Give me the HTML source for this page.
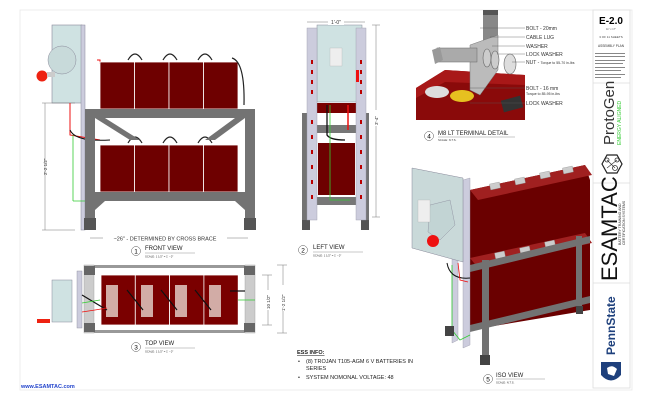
<!DOCTYPE html>
<html><head><meta charset="utf-8"><style>
html,body{margin:0;padding:0;background:#fff}
svg{display:block;font-family:"Liberation Sans",sans-serif}
</style></head><body>
<svg width="650" height="400" viewBox="0 0 650 400" xmlns="http://www.w3.org/2000/svg">
<rect x="20" y="10" width="612" height="380" fill="#fff" stroke="#e8e8e8" stroke-width="0.8"/>
<!-- title block -->
<rect x="593" y="10" width="37" height="378" fill="#fff" stroke="#ddd" stroke-width="0.8"/>
<line x1="593" y1="83" x2="630" y2="83" stroke="#ddd" stroke-width="0.8"/>
<line x1="593" y1="183" x2="630" y2="183" stroke="#ddd" stroke-width="0.8"/>
<line x1="593" y1="283" x2="630" y2="283" stroke="#ddd" stroke-width="0.8"/>
<text x="611" y="24" font-size="10" font-weight="bold" text-anchor="middle">E-2.0</text>
<text x="611" y="30" font-size="2.5" text-anchor="middle" fill="#555">11" x 17"</text>
<text x="611" y="38" font-size="3" text-anchor="middle" fill="#444">3 OF 11 SHEETS</text>
<text x="611" y="47" font-size="3.2" text-anchor="middle" fill="#333">ASSEMBLY PLAN</text>
<g fill="#888"><rect x="595" y="53" width="30" height="1"/><rect x="595" y="56" width="30" height="1"/><rect x="595" y="60" width="30" height="1"/><rect x="595" y="63" width="28" height="1"/><rect x="595" y="67" width="30" height="1"/><rect x="595" y="70" width="26" height="1"/><rect x="595" y="74" width="30" height="1"/><rect x="595" y="77" width="26" height="1"/></g>
<text transform="translate(614,145) rotate(-90)" font-size="15" fill="#333">ProtoGen</text>
<text transform="translate(621,145) rotate(-90)" font-size="5" fill="#3c3">ENERGY ALIGNED</text>
<polygon points="602,164 607,155 617,155 622,164 617,173 607,173" fill="none" stroke="#222" stroke-width="1.2"/>
<circle cx="607" cy="160" r="2" fill="none" stroke="#333" stroke-width="0.8"/><circle cx="617" cy="160" r="2" fill="none" stroke="#333" stroke-width="0.8"/><circle cx="615" cy="168" r="2.5" fill="none" stroke="#333" stroke-width="0.8"/>
<line x1="607" y1="160" x2="615" y2="168" stroke="#333" stroke-width="0.6"/><line x1="617" y1="160" x2="607" y2="168" stroke="#333" stroke-width="0.6"/>
<text transform="translate(617,281) rotate(-90)" font-size="22" fill="#111">ESAMTAC</text>
<text transform="translate(621,245) rotate(-90)" font-size="3.5" fill="#333">BATTERY TRAINING AND</text>
<text transform="translate(625,245) rotate(-90)" font-size="3.5" fill="#333">CERTIFICATION SYSTEMS</text>
<text transform="translate(615,355) rotate(-90)" font-size="12" font-weight="bold" fill="#1e407c">PennState</text>
<path d="M601,362 L621,362 L621,375 Q611,386 601,375 Z" fill="#1e407c"/>
<path d="M607,368 Q612,364 617,369 L614,376 L608,374 Z" fill="#fff"/>

<!-- FRONT VIEW -->
<g>
<rect x="52" y="25" width="30" height="78" fill="#cfe2e2" stroke="#889" stroke-width="0.6"/>
<circle cx="62" cy="60" r="14" fill="#c8dada" stroke="#889" stroke-width="0.5"/>
<rect x="81" y="25" width="4" height="205" fill="#ccd" stroke="#889" stroke-width="0.5"/>
<circle cx="42" cy="76" r="5.5" fill="#e21"/>
<rect x="47" y="72" width="8" height="5" fill="#ccc"/>
<line x1="45" y1="103" x2="45" y2="230" stroke="#777" stroke-width="0.5"/>
<line x1="42" y1="103" x2="75" y2="103" stroke="#777" stroke-width="0.5"/>
<line x1="42" y1="230" x2="75" y2="230" stroke="#777" stroke-width="0.5"/>
<text transform="translate(47,175) rotate(-90)" font-size="4.5" fill="#333">2'-2 1/2"</text>
<polyline points="70,103 70,135 100,140" fill="none" stroke="#e11" stroke-width="1"/>
<polyline points="97,60 100,60 100,64" fill="none" stroke="#e11" stroke-width="1"/>
<polyline points="73,201 73,135" fill="none" stroke="#3c3" stroke-width="0.8"/>
<polyline points="73,201 90,201" fill="none" stroke="#3c3" stroke-width="0.8"/>
<path d="M70,130 Q75,142 110,140" fill="none" stroke="#111" stroke-width="1"/>
<g fill="#6e0000" stroke="#fff" stroke-width="0.8">
<rect x="100" y="62" width="34.5" height="47"/><rect x="134.5" y="62" width="34.5" height="47"/><rect x="169" y="62" width="34.5" height="47"/><rect x="203.5" y="62" width="34.5" height="47"/>
<rect x="100" y="145" width="34.5" height="47"/><rect x="134.5" y="145" width="34.5" height="47"/><rect x="169" y="145" width="34.5" height="47"/><rect x="203.5" y="145" width="34.5" height="47"/>
</g>
<g fill="none" stroke="#222" stroke-width="1.2">
<path d="M128,60 Q135,48 142,60"/><path d="M163,60 Q170,48 177,60"/><path d="M198,60 Q205,48 212,60"/><path d="M232,58 Q245,62 244,105"/>
<path d="M128,143 Q135,131 142,143"/><path d="M163,143 Q170,131 177,143"/><path d="M198,143 Q205,131 212,143"/>
</g>
<g fill="#737373">
<rect x="85" y="109" width="170" height="9"/>
<rect x="85" y="192" width="170" height="9"/>
<rect x="85" y="109" width="10" height="110"/>
<rect x="245" y="109" width="10" height="110"/>
<polygon points="95,118 105,118 140,140 130,140"/><polygon points="245,118 235,118 205,140 215,140"/>
<polygon points="95,201 105,201 95,210"/><polygon points="245,201 235,201 245,210"/>
</g>
<rect x="84" y="218" width="12" height="12" fill="#555"/><rect x="244" y="218" width="12" height="12" fill="#555"/>
<line x1="90" y1="238" x2="248" y2="238" stroke="#777" stroke-width="0.5"/>
<rect x="103" y="234" width="124" height="8" fill="#fff"/>
<text x="165" y="240.5" font-size="5.5" text-anchor="middle" fill="#333">~26" - DETERMINED BY CROSS BRACE</text>
<circle cx="136" cy="251" r="4.5" fill="#fff" stroke="#555" stroke-width="0.5"/><text x="136" y="253.5" font-size="6.5" text-anchor="middle">1</text>
<text x="145" y="250" font-size="6" fill="#222">FRONT VIEW</text>
<line x1="145" y1="253" x2="195" y2="253" stroke="#777" stroke-width="0.4"/>
<text x="145" y="257.5" font-size="2.8" fill="#333">SCALE: 1 1/2" = 1' - 0"</text>
</g>

<!-- TOP VIEW -->
<g>
<rect x="84" y="265" width="171" height="3" fill="#999"/>
<rect x="84" y="330" width="171" height="3" fill="#999"/>
<rect x="84" y="265" width="10" height="68" fill="#ccc" stroke="#999" stroke-width="0.4"/>
<rect x="245" y="265" width="10" height="68" fill="#ccc" stroke="#999" stroke-width="0.4"/>
<rect x="84" y="266" width="11" height="9" fill="#666"/><rect x="244" y="266" width="11" height="9" fill="#666"/>
<rect x="84" y="323" width="11" height="9" fill="#666"/><rect x="244" y="323" width="11" height="9" fill="#666"/>
<rect x="52" y="280" width="20" height="42" fill="#cfe2e2" stroke="#889" stroke-width="0.5"/>
<rect x="77" y="271" width="5" height="57" fill="#ccd" stroke="#889" stroke-width="0.4"/>
<rect x="37" y="319" width="13" height="4" fill="#e21"/>
<g fill="#7a0000" stroke="#fff" stroke-width="0.8">
<rect x="101" y="275" width="34.3" height="50"/><rect x="135.3" y="275" width="34.3" height="50"/><rect x="169.6" y="275" width="34.3" height="50"/><rect x="203.9" y="275" width="34.3" height="50"/>
</g>
<g fill="#e8d8d0" opacity="0.8"><rect x="106" y="285" width="12" height="32"/><rect x="141" y="285" width="12" height="32"/><rect x="175" y="285" width="12" height="32"/><rect x="209" y="285" width="12" height="32"/></g>
<g stroke="#111" stroke-width="1.2"><line x1="127" y1="290" x2="143" y2="310"/><line x1="161" y1="290" x2="177" y2="310"/><line x1="195" y1="290" x2="211" y2="310"/><line x1="230" y1="291" x2="245" y2="291"/><line x1="82" y1="295" x2="107" y2="310"/></g>
<polyline points="82,312 95,310 107,308" fill="none" stroke="#e11" stroke-width="0.8"/>
<line x1="82" y1="303" x2="100" y2="300" stroke="#3c3" stroke-width="0.8"/>
<line x1="238" y1="300" x2="255" y2="300" stroke="#3c3" stroke-width="0.8"/>
<line x1="268" y1="275" x2="268" y2="325" stroke="#777" stroke-width="0.5"/>
<line x1="262" y1="275" x2="272" y2="275" stroke="#777" stroke-width="0.5"/><line x1="262" y1="325" x2="272" y2="325" stroke="#777" stroke-width="0.5"/>
<rect x="265" y="290" width="6" height="20" fill="#fff"/>
<text transform="translate(270,309) rotate(-90)" font-size="4.5" fill="#333">10 1/2"</text>
<line x1="283" y1="265" x2="283" y2="333" stroke="#777" stroke-width="0.5"/>
<line x1="277" y1="265" x2="287" y2="265" stroke="#777" stroke-width="0.5"/><line x1="277" y1="333" x2="287" y2="333" stroke="#777" stroke-width="0.5"/>
<rect x="280" y="285" width="6" height="26" fill="#fff"/>
<text transform="translate(285,311) rotate(-90)" font-size="4.5" fill="#333">1'-2 1/2"</text>
<circle cx="136" cy="347" r="4.5" fill="#fff" stroke="#555" stroke-width="0.5"/><text x="136" y="349.5" font-size="6.5" text-anchor="middle">3</text>
<text x="145" y="345" font-size="6" fill="#222">TOP VIEW</text>
<line x1="145" y1="348" x2="195" y2="348" stroke="#777" stroke-width="0.4"/>
<text x="145" y="352.5" font-size="2.8" fill="#333">SCALE: 1 1/2" = 1' - 0"</text>
</g>
<text x="21" y="388" font-size="5.5" font-weight="bold" fill="#2244cc">www.ESAMTAC.com</text>

<!-- LEFT VIEW -->
<g>
<rect x="302" y="113" width="7" height="117" fill="#737373"/>
<rect x="362" y="113" width="7" height="117" fill="#737373"/>
<rect x="302" y="220" width="8" height="10" fill="#555"/><rect x="361" y="220" width="8" height="10" fill="#555"/>
<rect x="309" y="125" width="53" height="8" fill="#777"/>
<rect x="309" y="197" width="53" height="8" fill="#777"/>
<rect x="318" y="143" width="37" height="52" fill="#6e0000"/>
<rect x="310" y="103" width="50" height="10" fill="#7a0000"/>
<rect x="317" y="25" width="45" height="77" fill="#cfe2e2" stroke="#889" stroke-width="0.5"/>
<rect x="330" y="48" width="12" height="18" fill="#eee" stroke="#aaa" stroke-width="0.3"/>
<rect x="307" y="28" width="10" height="192" fill="#ccd" stroke="#99a" stroke-width="0.4"/>
<rect x="356" y="28" width="10" height="192" fill="#ccd" stroke="#99a" stroke-width="0.4"/>
<g fill="#b00">
<rect x="311" y="60" width="2" height="4"/><rect x="311" y="70" width="2" height="4"/><rect x="311" y="80" width="2" height="4"/><rect x="311" y="90" width="2" height="4"/><rect x="311" y="120" width="2" height="4"/><rect x="311" y="135" width="2" height="4"/><rect x="311" y="150" width="2" height="4"/><rect x="311" y="165" width="2" height="4"/><rect x="311" y="180" width="2" height="4"/><rect x="311" y="195" width="2" height="4"/>
<rect x="360" y="60" width="2" height="4"/><rect x="360" y="70" width="2" height="4"/><rect x="360" y="80" width="2" height="4"/><rect x="360" y="90" width="2" height="4"/><rect x="360" y="120" width="2" height="4"/><rect x="360" y="135" width="2" height="4"/><rect x="360" y="150" width="2" height="4"/><rect x="360" y="165" width="2" height="4"/><rect x="360" y="180" width="2" height="4"/><rect x="360" y="195" width="2" height="4"/>
<rect x="356" y="70" width="3" height="12" fill="#e11"/>
</g>
<line x1="348" y1="105" x2="348" y2="130" stroke="#e11" stroke-width="1.5"/>
<path d="M327,105 L327,135 Q330,140 345,140" fill="none" stroke="#111" stroke-width="1.3"/>
<polyline points="330,105 330,200 350,200" fill="none" stroke="#3c3" stroke-width="0.8"/>
<line x1="307" y1="22" x2="365" y2="22" stroke="#777" stroke-width="0.5"/>
<rect x="328" y="18" width="16" height="7" fill="#fff"/>
<text x="336" y="24" font-size="5" text-anchor="middle" fill="#333">1'-0"</text>
<line x1="376" y1="25" x2="376" y2="217" stroke="#777" stroke-width="0.5"/>
<line x1="372" y1="25" x2="380" y2="25" stroke="#777" stroke-width="0.5"/><line x1="372" y1="217" x2="380" y2="217" stroke="#777" stroke-width="0.5"/>
<rect x="373" y="110" width="6" height="16" fill="#fff"/>
<text transform="translate(378,125) rotate(-90)" font-size="4.5" fill="#333">3'-4"</text>
<circle cx="303" cy="250" r="4.5" fill="#fff" stroke="#555" stroke-width="0.5"/><text x="303" y="252.5" font-size="6.5" text-anchor="middle">2</text>
<text x="313" y="249" font-size="6" fill="#222">LEFT VIEW</text>
<line x1="313" y1="252" x2="363" y2="252" stroke="#777" stroke-width="0.4"/>
<text x="313" y="256.5" font-size="2.8" fill="#333">SCALE: 1 1/2" = 1' - 0"</text>
</g>

<!-- DETAIL 4 -->
<g>
<polygon points="416,88 445,70 525,75 525,120 416,120" fill="#8a0a0a"/>
<polygon points="416,88 445,70 525,75 525,85 445,82 416,98" fill="#a81818"/>
<ellipse cx="437" cy="92" rx="12" ry="6" fill="#ddd"/>
<ellipse cx="462" cy="96" rx="12" ry="6" fill="#e6c020"/>
<rect x="483" y="10" width="15" height="35" fill="#888"/>
<rect x="483" y="10" width="15" height="5" fill="#555"/>
<polygon points="470,45 498,35 498,70 480,95 470,90" fill="#bbb" stroke="#777" stroke-width="0.5"/>
<rect x="437" y="48" width="40" height="14" fill="#aaa" stroke="#666" stroke-width="0.5"/>
<polygon points="432,50 440,47 443,60 435,64" fill="#999"/>
<ellipse cx="487" cy="58" rx="4" ry="9" fill="#ccc" stroke="#666" stroke-width="0.6"/>
<ellipse cx="495" cy="60" rx="4" ry="9" fill="#ccc" stroke="#666" stroke-width="0.6"/>
<ellipse cx="510" cy="64" rx="6" ry="10" fill="#ddd" stroke="#666" stroke-width="0.6"/>
<rect x="502" y="98" width="20" height="12" fill="#333" transform="rotate(-15 512 104)"/>
<g stroke="#555" stroke-width="0.4" fill="none">
<polyline points="480,28 525,28"/><polyline points="490,37 525,37"/><polyline points="492,46 525,46"/><polyline points="497,54 525,54"/><polyline points="512,62 525,62"/><polyline points="470,88 525,88"/><polyline points="470,103 525,103"/>
</g>
<g font-size="5" fill="#333">
<text x="526" y="30">BOLT - 20mm</text><text x="526" y="39">CABLE LUG</text><text x="526" y="48">WASHER</text><text x="526" y="56">LOCK WASHER</text><text x="526" y="64">NUT - <tspan font-size="3.5">Torque to 55-70 in-lbs</tspan></text>
<text x="526" y="90">BOLT - 16 mm</text><text x="526" y="95" font-size="3.5">Torque to 85-95 in-lbs</text><text x="526" y="105">LOCK WASHER</text>
</g>
<circle cx="429" cy="136" r="4.5" fill="#fff" stroke="#555" stroke-width="0.5"/><text x="429" y="138.5" font-size="6.5" text-anchor="middle">4</text>
<text x="438" y="135" font-size="6" fill="#222">M8 LT TERMINAL DETAIL</text>
<line x1="438" y1="137" x2="515" y2="137" stroke="#777" stroke-width="0.4"/>
<text x="438" y="141" font-size="2.8" fill="#333">SCALE: N.T.S.</text>
</g>

<!-- ISO VIEW -->
<g>
<polygon points="470,190 585,165 590,180 590,250 470,270" fill="#6a0000"/>
<polygon points="470,260 585,235 590,245 590,310 470,330" fill="#6a0000"/>
<polygon points="470,190 585,165 592,175 478,200" fill="#a02020"/>
<polygon points="470,258 585,233 592,243 478,268" fill="#a02020"/>
<g fill="#ccc" stroke="#888" stroke-width="0.3">
<rect x="490" y="183" width="10" height="6" transform="rotate(-12 495 186)"/><rect x="515" y="178" width="10" height="6" transform="rotate(-12 520 181)"/><rect x="540" y="172" width="10" height="6" transform="rotate(-12 545 175)"/><rect x="563" y="167" width="10" height="6" transform="rotate(-12 568 170)"/>
<rect x="495" y="252" width="10" height="6" transform="rotate(-12 500 255)"/><rect x="520" y="247" width="10" height="6" transform="rotate(-12 525 250)"/><rect x="545" y="241" width="10" height="6" transform="rotate(-12 550 244)"/>
</g>
<g fill="#727272">
<polygon points="470,265 590,236 590,243 470,272"/>
<polygon points="470,325 590,296 590,303 470,332"/>
<rect x="482" y="260" width="7" height="102"/>
<rect x="576" y="236" width="6" height="75"/>
</g>
<rect x="480" y="355" width="10" height="10" fill="#444"/>
<rect x="576" y="306" width="7" height="8" fill="#444"/>
<polygon points="463,180 470,178 470,345 463,348" fill="#ccd" stroke="#99a" stroke-width="0.4"/>
<polygon points="452,190 458,188 458,340 452,343" fill="#ccd" stroke="#99a" stroke-width="0.4"/>
<polygon points="412,168 463,178 463,262 412,248" fill="#c9d9d9" stroke="#889" stroke-width="0.5"/>
<polygon points="430,205 450,200 455,225 440,240 428,232" fill="#c2d4d4" stroke="#889" stroke-width="0.4"/>
<rect x="418" y="200" width="12" height="22" fill="#eee" stroke="#aaa" stroke-width="0.3"/>
<circle cx="433" cy="241" r="6" fill="#e11"/>
<polyline points="452,265 452,330 460,340 470,335" fill="none" stroke="#3c3" stroke-width="0.8"/>
<path d="M447,263 Q450,280 470,278" fill="none" stroke="#111" stroke-width="1"/>
<polyline points="458,263 460,280 468,282" fill="none" stroke="#e11" stroke-width="0.8"/>
<rect x="445" y="326" width="9" height="10" fill="#444"/>
<circle cx="488" cy="379" r="4.5" fill="#fff" stroke="#555" stroke-width="0.5"/><text x="488" y="381.5" font-size="6.5" text-anchor="middle">5</text>
<text x="496" y="377" font-size="6" fill="#222">ISO VIEW</text>
<line x1="496" y1="379" x2="545" y2="379" stroke="#777" stroke-width="0.4"/>
<text x="496" y="383.5" font-size="2.8" fill="#333">SCALE: N.T.S.</text>
</g>

<!-- ESS INFO -->
<g font-size="5.5" fill="#222">
<text x="297" y="354" font-weight="bold" text-decoration="underline">ESS INFO:</text>
<text x="298" y="363">•</text><text x="306" y="363">(8) TROJAN T105-AGM 6 V BATTERIES IN</text>
<text x="306" y="370">SERIES</text>
<text x="298" y="379">•</text><text x="306" y="379">SYSTEM NOMONAL VOLTAGE: 48</text>
</g>
</svg>
</body></html>
